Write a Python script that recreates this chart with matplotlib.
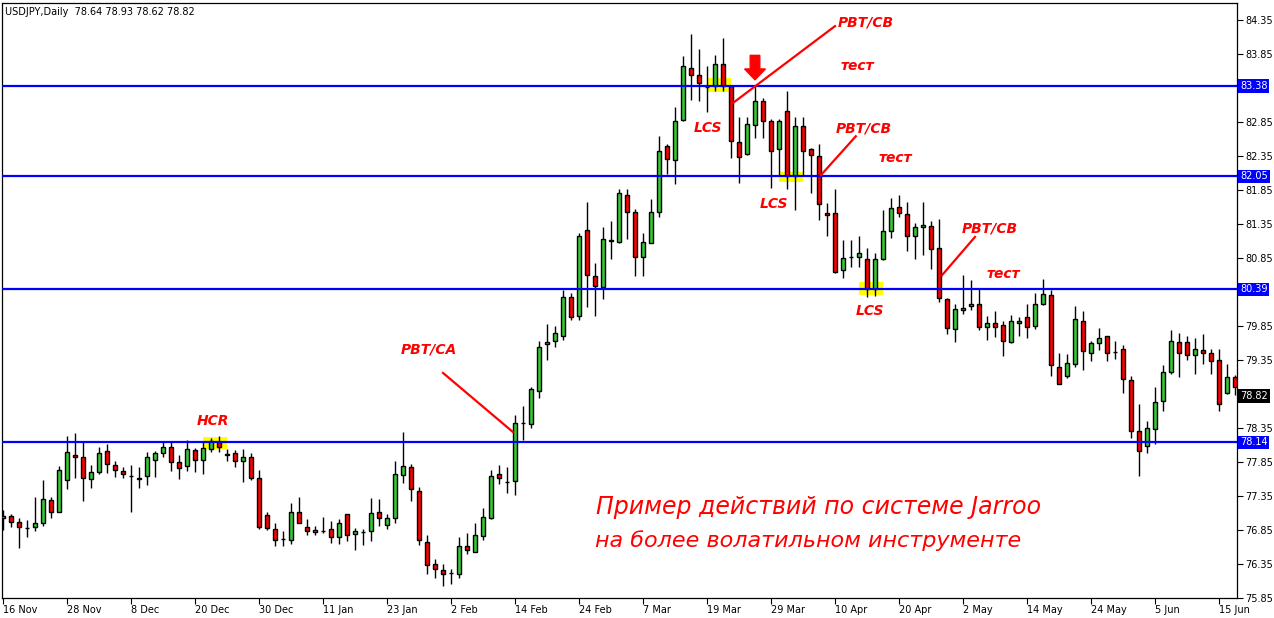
import matplotlib
matplotlib.use("Agg")
import matplotlib.pyplot as plt
from matplotlib.patches import Rectangle, Polygon
from matplotlib import transforms

# ---------------- data ----------------
opens = [77.02, 77.06, 76.97, 76.88, 76.89, 76.96, 77.29, 77.11, 77.58, 77.95,
         77.92, 77.60, 77.70, 78.01, 77.80, 77.72, 77.65, 77.62, 77.65, 77.88,
         77.98, 78.07, 77.85, 77.79, 78.02, 77.88, 78.04, 78.15, 77.97, 77.98,
         77.86, 77.93, 77.62, 77.07, 76.87, 76.72, 76.71, 77.11, 76.90, 76.82,
         76.84, 76.86, 76.74, 77.08, 76.79, 76.82, 76.83, 77.11, 76.92, 77.02,
         77.66, 77.77, 77.43, 76.68, 76.35, 76.26, 76.22, 76.20, 76.61, 76.53,
         76.76, 77.02, 77.67, 77.56, 77.57, 78.43, 78.41, 78.90, 79.59, 79.63,
         79.71, 80.27, 79.99, 81.26, 80.58, 80.43, 81.12, 81.08, 81.77, 81.53,
         80.86, 81.07, 81.53, 82.49, 82.29, 82.88, 83.65, 83.54, 83.37, 83.38,
         83.70, 83.38, 82.55, 82.38, 82.80, 83.16, 82.87, 82.45, 83.01, 82.06,
         82.79, 82.45, 82.35, 81.51, 81.51, 80.68, 80.87, 80.86, 80.83, 80.40,
         80.83, 81.24, 81.60, 81.49, 81.17, 81.30, 81.32, 80.99, 80.24, 79.80,
         80.08, 80.14, 80.17, 79.83, 79.89, 79.86, 79.61, 79.90, 79.98, 79.85,
         80.17, 80.30, 79.25, 79.11, 79.29, 79.93, 79.46, 79.60, 79.70, 79.47,
         79.51, 79.05, 78.30, 78.08, 78.33, 78.74, 79.17, 79.61, 79.61, 79.43,
         79.49, 79.46, 79.35, 78.86, 79.10]
highs = [77.14, 77.09, 77.02, 77.00, 77.33, 77.59, 77.33, 77.79, 78.23, 78.28,
         78.14, 77.81, 78.07, 78.12, 77.87, 77.78, 77.81, 77.78, 78.00, 78.01,
         78.16, 78.15, 77.95, 78.17, 78.05, 78.14, 78.20, 78.23, 78.04, 78.03,
         78.04, 77.98, 77.73, 77.11, 76.95, 76.84, 77.25, 77.34, 77.01, 76.91,
         77.04, 76.98, 77.01, 77.08, 76.88, 76.86, 77.32, 77.31, 77.09, 77.87,
         78.29, 77.82, 77.48, 76.77, 76.42, 76.35, 76.27, 76.74, 76.80, 76.96,
         77.18, 77.73, 77.80, 77.77, 78.54, 78.67, 78.96, 79.63, 79.88, 79.85,
         80.38, 80.33, 81.22, 81.67, 80.77, 81.30, 81.39, 81.86, 81.86, 81.57,
         81.22, 81.72, 82.64, 82.52, 83.07, 83.82, 84.15, 83.92, 83.68, 83.83,
         84.08, 83.38, 82.93, 82.92, 83.39, 83.20, 82.89, 82.89, 83.30, 82.93,
         82.92, 82.47, 82.53, 81.66, 81.86, 81.11, 81.11, 81.18, 80.99, 80.92,
         81.55, 81.73, 81.77, 81.67, 81.37, 81.68, 81.40, 81.42, 80.26, 80.18,
         80.60, 80.52, 80.39, 79.99, 80.07, 79.93, 80.01, 79.98, 80.18, 80.33,
         80.54, 80.38, 79.45, 79.44, 80.14, 80.07, 79.63, 79.82, 79.71, 79.63,
         79.57, 79.11, 78.71, 78.46, 78.96, 79.27, 79.79, 79.74, 79.71, 79.68,
         79.73, 79.51, 79.51, 79.29, 79.13]
lows = [76.85, 76.90, 76.58, 76.75, 76.83, 76.91, 77.02, 77.11, 77.45, 77.62,
        77.28, 77.47, 77.68, 77.69, 77.63, 77.61, 77.12, 77.47, 77.51, 77.63,
        77.92, 77.72, 77.60, 77.72, 77.71, 77.68, 77.99, 78.00, 77.86, 77.78,
        77.55, 77.59, 76.87, 76.85, 76.61, 76.61, 76.65, 76.95, 76.77, 76.77,
        76.81, 76.66, 76.65, 76.69, 76.55, 76.63, 76.69, 76.91, 76.86, 76.96,
        77.54, 77.28, 76.63, 76.21, 76.15, 76.03, 76.05, 76.14, 76.49, 76.52,
        76.71, 77.01, 77.52, 77.39, 77.36, 78.18, 78.35, 78.79, 79.35, 79.54,
        79.65, 79.94, 79.94, 80.13, 80.00, 80.24, 80.83, 81.07, 81.13, 80.58,
        80.58, 81.07, 81.45, 82.09, 81.94, 82.86, 83.18, 83.16, 83.00, 83.30,
        83.30, 82.32, 81.96, 82.37, 82.62, 82.61, 81.88, 82.05, 81.87, 81.55,
        82.06, 81.81, 81.41, 81.18, 80.63, 80.55, 80.72, 80.72, 80.28, 80.29,
        80.82, 81.15, 81.46, 80.96, 80.84, 80.90, 80.69, 80.21, 79.73, 79.62,
        80.03, 80.09, 79.79, 79.64, 79.69, 79.41, 79.60, 79.71, 79.67, 79.80,
        80.16, 79.12, 78.99, 79.09, 79.25, 79.20, 79.34, 79.49, 79.33, 79.36,
        78.86, 78.20, 77.65, 77.98, 78.11, 78.60, 79.15, 79.10, 79.35, 79.15,
        79.29, 79.15, 78.60, 78.85, 78.83]
closes = [77.06, 76.97, 76.89, 76.88, 76.96, 77.31, 77.11, 77.73, 77.99, 77.92,
          77.61, 77.70, 77.98, 77.82, 77.73, 77.67, 77.65, 77.60, 77.92, 77.98,
          78.07, 77.85, 77.76, 78.04, 77.88, 78.05, 78.16, 78.07, 77.96, 77.86,
          77.92, 77.62, 76.89, 76.88, 76.71, 76.72, 77.11, 76.96, 76.84, 76.85,
          76.84, 76.75, 76.96, 76.77, 76.83, 76.82, 77.10, 77.02, 77.02, 77.67,
          77.79, 77.45, 76.70, 76.33, 76.27, 76.21, 76.22, 76.61, 76.55, 76.77,
          77.04, 77.65, 77.61, 77.56, 78.43, 78.43, 78.92, 79.54, 79.61, 79.74,
          80.27, 79.98, 81.18, 80.60, 80.44, 81.13, 81.10, 81.80, 81.53, 80.87,
          81.08, 81.53, 82.43, 82.30, 82.86, 83.67, 83.54, 83.42, 83.36, 83.71,
          83.38, 82.57, 82.33, 82.82, 83.16, 82.87, 82.43, 82.86, 82.06, 82.79,
          82.43, 82.36, 81.64, 81.48, 80.65, 80.85, 80.87, 80.92, 80.40, 80.83,
          81.24, 81.58, 81.51, 81.17, 81.30, 81.33, 80.98, 80.26, 79.82, 80.10,
          80.12, 80.18, 79.84, 79.90, 79.84, 79.63, 79.92, 79.93, 79.83, 80.17,
          80.32, 79.27, 79.00, 79.30, 79.95, 79.48, 79.60, 79.67, 79.46, 79.47,
          79.07, 78.30, 78.01, 78.35, 78.73, 79.18, 79.63, 79.46, 79.42, 79.51,
          79.46, 79.33, 78.71, 79.10, 78.95]

date_labels = ["16 Nov", "28 Nov", "8 Dec", "20 Dec", "30 Dec", "11 Jan", "23 Jan",
               "2 Feb", "14 Feb", "24 Feb", "7 Mar", "19 Mar", "29 Mar", "10 Apr",
               "20 Apr", "2 May", "14 May", "24 May", "5 Jun", "15 Jun"]
label_step = 8

levels = [83.38, 82.05, 80.39, 78.14]
last_price = 78.82
y_ticks = [84.35, 83.85, 83.35, 82.85, 82.35, 81.85, 81.35, 80.85, 80.35,
           79.85, 79.35, 78.85, 78.35, 77.85, 77.35, 76.85, 76.35, 75.85]
hidden_ticks = [83.35, 80.35, 78.85]
title = "USDJPY,Daily  78.64 78.93 78.62 78.82"

# ---------------- figure ----------------
W, H = 1274, 618
fig = plt.figure(figsize=(W / 100, H / 100), dpi=100)
ax = fig.add_axes([2 / W, 1 - 598 / H, 1235 / W, 595 / H])
n = len(opens)
xs = list(range(n))

green = "#36c936"
red = "#ff0000"

# yellow highlights (behind candles)
highlights = [(25.0, 28.0, 78.04, 78.22), (88.0, 91.0, 83.29, 83.50),
              (97.0, 100.0, 81.97, 82.11), (107.0, 110.0, 80.31, 80.50)]
for x0, x1, y0, y1 in highlights:
    ax.add_patch(Rectangle((x0, y0), x1 - x0, y1 - y0, facecolor="#ffff00",
                           edgecolor="none", zorder=1))

ax.vlines(xs, lows, highs, color="black", linewidth=1.0, zorder=2)
bottoms = [min(o, c) for o, c in zip(opens, closes)]
heights = [abs(c - o) for o, c in zip(opens, closes)]
colors = [green if c > o else (red if c < o else "black") for o, c in zip(opens, closes)]
ax.bar(xs, heights, bottom=bottoms, width=0.62, color=colors, edgecolor="black",
       linewidth=1.0, zorder=3)

for lv in levels:
    ax.axhline(lv, color="#0000ff", linewidth=1.6, zorder=4)

ax.set_xlim(-0.125, 154.25)
ax.set_ylim(75.85, 84.60)

for s in ax.spines.values():
    s.set_color("black")
    s.set_linewidth(0.9)

ax.yaxis.tick_right()
ax.set_yticks(y_ticks)
ax.set_yticklabels(["" if t in hidden_ticks else f"{t:.2f}" for t in y_ticks])
ax.tick_params(axis="y", direction="out", length=4, width=0.8, pad=2,
               labelsize=7, colors="black")
xt = list(range(0, label_step * len(date_labels), label_step))
ax.set_xticks(xt)
ax.set_xticklabels(date_labels)
ax.tick_params(axis="x", direction="out", length=4, width=0.8, pad=1.0,
               labelsize=7, colors="black")
for lab in ax.get_xticklabels():
    lab.set_ha("left")

# price boxes on right axis
tr = transforms.blended_transform_factory(ax.transAxes, ax.transData)
for lv in levels:
    ax.text(1.0025, lv, f"{lv:.2f}", transform=tr, ha="left", va="center",
            fontsize=7, color="white", zorder=6, clip_on=False,
            bbox=dict(boxstyle="square,pad=0.18", facecolor="#0000ff", edgecolor="none"))
ax.text(1.0025, last_price, f"{last_price:.2f}", transform=tr, ha="left", va="center",
        fontsize=7, color="white", zorder=6, clip_on=False,
        bbox=dict(boxstyle="square,pad=0.18", facecolor="black", edgecolor="none"))

fig.text(5 / W, 1 - 12 / H, title, fontsize=7, ha="left", va="center", color="black")

# red annotation lines
red_lines = [((55.0, 79.16), (63.75, 78.29)), ((91.25, 83.13), (104.0, 84.26)),
             ((102.25, 82.07), (106.6, 82.64)), ((117.4, 80.60), (121.5, 81.16))]
for (x0, y0), (x1, y1) in red_lines:
    ax.plot([x0, x1], [y0, y1], color="red", linewidth=1.6, zorder=5)

# red down arrow
ax.add_patch(Polygon([(93.4, 83.83), (94.6, 83.83), (94.6, 83.63), (95.3, 83.63),
                      (94.0, 83.47), (92.7, 83.63), (93.4, 83.63)],
                     closed=True, facecolor="red", edgecolor="red", zorder=5))

labels = [("HCR", 26.25, 78.45), ("PBT/CA", 53.25, 79.50), ("LCS", 88.1, 82.76),
          ("PBT/CB", 107.9, 84.32), ("тест", 106.75, 83.67), ("PBT/CB", 107.6, 82.76),
          ("тест", 111.5, 82.32), ("LCS", 96.4, 81.64), ("PBT/CB", 123.4, 81.29),
          ("тест", 125.0, 80.61), ("LCS", 108.4, 80.07)]
for txt, x, y in labels:
    ax.text(x, y, txt, color="red", fontsize=10, fontweight="bold", style="italic",
            ha="center", va="center", zorder=6)

ax.text(74.1, 77.19, "Пример действий по системе Jarroo", color="red", fontsize=17,
        style="italic", ha="left", va="center", zorder=6)
ax.text(74.0, 76.69, "на более волатильном инструменте", color="red", fontsize=16,
        style="italic", ha="left", va="center", zorder=6)

fig.savefig("out.png", dpi=100, facecolor="white")
